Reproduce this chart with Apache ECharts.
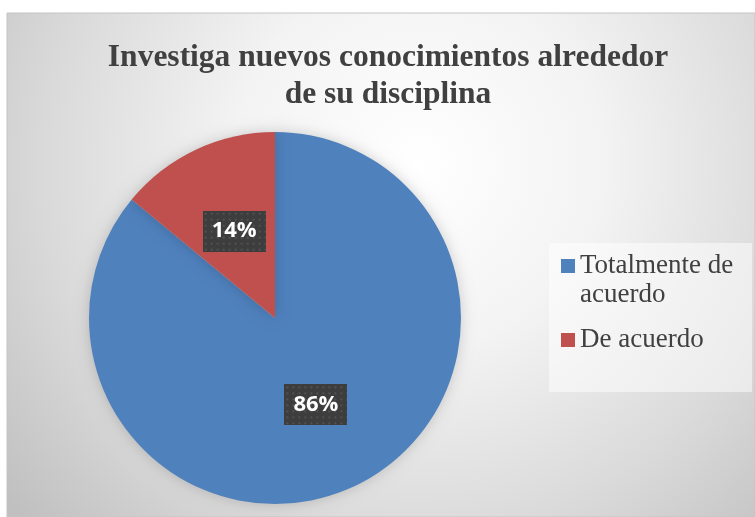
<!DOCTYPE html>
<html>
<head>
<meta charset="utf-8">
<script src="https://cdn.jsdelivr.net/npm/echarts@6/dist/echarts.min.js"></script>
<style>
  html, body { margin: 0; padding: 0; background: #fff; }
  #chart { width: 755px; height: 517px; }
</style>
</head>
<body>
<div id="chart"></div>
<script>
const titleLines = ['Investiga nuevos conocimientos alrededor', 'de su disciplina']
const categories = ['Totalmente de acuerdo', 'De acuerdo']
const legendLabels = ['\nTotalmente de\nacuerdo', 'De acuerdo']
const values = [86, 14]
const colors = ['#4f81bd', '#c0504d']

// dotted dark box behind the data labels
const _labelPattern = function (w, h) {
  const cv = document.createElement('canvas')
  cv.width = w
  cv.height = h
  const ctx = cv.getContext('2d')
  ctx.fillStyle = '#3d3d3d'
  ctx.fillRect(0, 0, w, h)
  ctx.fillStyle = '#525252'
  for (let y = 2; y < h; y += 6) {
    for (let x = 2; x < w; x += 6) {
      ctx.fillRect(x, y, 2, 2)
    }
  }
  return cv
}

const LH = 29
const chart = echarts.init(document.getElementById('chart'))

const option = {
  animation: false,
  title: {
    text: titleLines.join('\n'),
    left: 388,
    top: 39,
    padding: 0,
    textAlign: 'center',
    textStyle: {
      fontFamily: '"Liberation Serif", "DejaVu Serif", serif',
      fontWeight: 'bold',
      fontSize: 31.5,
      lineHeight: 37,
      color: '#404040',
    },
  },
  graphic: [
    {
      type: 'rect',
      z: 0,
      shape: { x: 7, y: 13, width: 748, height: 504 },
      style: {
        fill: {
          type: 'radial',
          x: 0.55,
          y: 0.3,
          r: 1.05,
          colorStops: [
            { offset: 0, color: '#ffffff' },
            { offset: 0.35, color: '#f3f3f3' },
            { offset: 0.7, color: '#dadada' },
            { offset: 1, color: '#c0c0c0' },
          ],
        },
        stroke: '#c4c4c4',
        lineWidth: 1,
      },
    },
    {
      type: 'rect',
      z: 1,
      shape: { x: 549, y: 243, width: 203, height: 149 },
      style: { fill: 'rgba(255,255,255,0.5)' },
    },
  ],
  legend: {
    orient: 'vertical',
    left: 561,
    top: 266 - LH * 1.5,
    padding: 0,
    itemWidth: 14,
    itemHeight: 14,
    itemGap: 16,
    icon: 'rect',
    formatter: (name) => legendLabels[categories.indexOf(name)],
    textStyle: {
      fontFamily: '"Liberation Serif", "DejaVu Serif", serif',
      fontSize: 27,
      lineHeight: LH,
      color: '#404040',
    },
    data: categories,
  },
  series: [
    {
      type: 'pie',
      center: [275, 318],
      radius: 186,
      startAngle: 90,
      clockwise: true,
      avoidLabelOverlap: false,
      itemStyle: {
        shadowBlur: 14,
        shadowColor: 'rgba(0,0,0,0.18)',
      },
      label: {
        show: true,
        position: 'inside',
        formatter: '{d}%',
        fontFamily: '"Open Sans", sans-serif',
        fontWeight: 'bold',
        fontSize: 22,
        color: '#ffffff',
        width: 63,
        height: 41,
        lineHeight: 41,
        align: 'center',
        verticalAlign: 'middle',
        padding: 0,
        backgroundColor: { image: _labelPattern(63, 41) },
        shadowColor: 'rgba(0,0,0,0.45)',
        shadowBlur: 6,
        shadowOffsetX: 3,
        shadowOffsetY: 3,
      },
      labelLine: { show: false },
      emphasis: { disabled: true },
      data: categories.map((name, i) => ({
        name: name,
        value: values[i],
        itemStyle: { color: colors[i] },
      })),
    },
  ],
}

chart.setOption(option)
</script>
</body>
</html>
